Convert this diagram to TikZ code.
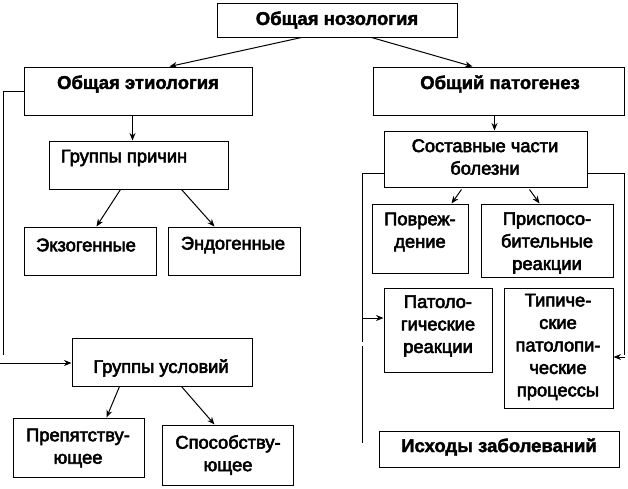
\documentclass[tikz,border=0pt]{standalone}
\usepackage{fontspec}
\newfontfamily\regf{Liberation Sans}[FakeBold=3]
\newfontfamily\titf{Liberation Sans Bold}[FakeBold=2]
\usetikzlibrary{arrows.meta,calc}
\begin{document}
\begin{tikzpicture}[x=1pt,y=-1pt,
  box/.style={draw,line width=1pt,inner sep=0pt},
  ttl/.style={font=\titf\fontsize{18.5}{22}\selectfont,inner sep=0pt,align=center},
  txt/.style={font=\regf\fontsize{18.3}{22.5}\selectfont,inner sep=0pt,align=center},
  ln/.style={line width=1pt},
  arr/.style={line width=1pt,-{Stealth[length=7.5pt,width=6pt]}}]
\useasboundingbox[fill=white] (0,0) rectangle (628,488);
% boxes
\node[box,minimum width=240,minimum height=34] (nozo) at (337,20) {};
\node[box,minimum width=228,minimum height=48] (etio) at (138,91) {};
\node[box,minimum width=251,minimum height=48] (pato) at (498.5,91) {};
\node[box,minimum width=179,minimum height=48] (prich) at (138.5,165) {};
\node[box,minimum width=203,minimum height=56] (sost) at (485.5,159) {};
\node[box,minimum width=132,minimum height=48] (exo) at (90,251) {};
\node[box,minimum width=132,minimum height=48] (endo) at (234,251) {};
\node[box,minimum width=180,minimum height=48] (usl) at (162,362) {};
\node[box,minimum width=131,minimum height=59] (prep) at (78.5,447.5) {};
\node[box,minimum width=131,minimum height=60] (spos) at (227.5,455) {};
\node[box,minimum width=96,minimum height=69] (povr) at (420,238.5) {};
\node[box,minimum width=132,minimum height=73] (prisp) at (547,240.5) {};
\node[box,minimum width=108,minimum height=84] (patr) at (438,330) {};
\node[box,minimum width=109,minimum height=120] (tip) at (558.5,348) {};
\node[box,minimum width=240,minimum height=36] (ishod) at (499,449) {};
% texts
\node[ttl] (nozo-t) at (337,20) {Общая нозология};
\node[ttl] (etio-t) at (138,84) {Общая этиология};
\node[ttl] (pato-t) at (500,84) {Общий патогенез};
\node[txt] (prich-t) at (124,158) {Группы причин};
\node[txt] (sost-t) at (485,157) {Составные части\\болезни};
\node[txt] (exo-t) at (86,245) {Экзогенные};
\node[txt] (endo-t) at (233,245) {Эндогенные};
\node[txt] (usl-t) at (161,368) {Группы условий};
\node[txt] (prep-t) at (78,448) {Препятству-\\ющее};
\node[txt] (spos-t) at (228,455) {Способству-\\ющее};
\node[txt] (povr-t) at (420,232) {Повреж-\\дение};
\node[txt] (prisp-t) at (547,243) {Приспосо-\\бительные\\реакции};
\node[txt] (patr-t) at (438,326) {Патоло-\\гические\\реакции};
\node[txt] (tip-t) at (558,347) {Типиче-\\ские\\патолопи-\\ческие\\процессы};
\node[ttl] (ishod-t) at (499,447) {Исходы заболеваний};
% connectors
\draw[arr] ($(nozo.south west)+(85,0)$) -- ($(etio.north west)+(146,0)$);
\draw[arr] ($(nozo.south west)+(155,0)$) -- ($(pato.north west)+(100,0)$);
\draw[arr] ($(etio.south west)+(109,0)$) -- ($(prich.north west)+(84,0)$);
\draw[arr] ($(pato.south west)+(122,0)$) -- ($(sost.north west)+(111,0)$);
\draw[arr] ($(prich.south west)+(72,0)$) -- ($(exo.north west)+(73,0)$);
\draw[arr] ($(prich.south west)+(133,0)$) -- ($(endo.north west)+(47,0)$);
\draw[arr] ($(usl.south west)+(48,0)$) -- ($(prep.north west)+(94,0)$);
\draw[arr] ($(usl.south west)+(110,0)$) -- ($(spos.north west)+(53,0)$);
\draw[arr] ($(sost.south west)+(78,2)$) -- ($(povr.north west)+(80,0)$);
\draw[arr] ($(sost.south west)+(146,2)$) -- ($(prisp.north west)+(59,0)$);
% left loop from etiology
\coordinate (lb) at (3,355);
\coordinate (la) at (0,363);
\draw[ln] (etio.west) -| (lb);
\draw[arr] (la) -- (la -| usl.west);
% left loop from parts of disease
\coordinate (sl) at ($(sost.south west)+(0,-14)$);
\coordinate (rj) at (362,318);
\coordinate (rg1) at (362,342);
\coordinate (rg2) at (362,346);
\coordinate (rl) at (362,443);
\draw[ln] (sl) -| (rg1);
\draw[ln] (rg2) -- (rl);
\draw[arr] (rj) -- (rj -| patr.west);
% right loop
\coordinate (sr) at ($(sost.south east)+(0,-14)$);
\coordinate (rr) at (624,355);
\coordinate (ra) at (625,357);
\draw[ln] (sr) -| (rr);
\draw[arr] (ra) -- (ra -| tip.east);
\end{tikzpicture}
\end{document}
